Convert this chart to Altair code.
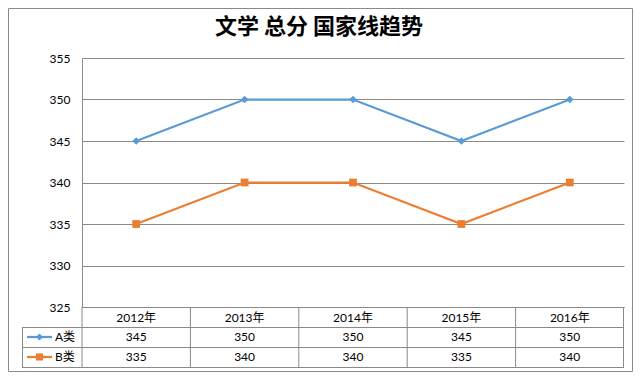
import altair as alt
import pandas as pd

years = ["2012年", "2013年", "2014年", "2015年", "2016年"]
series_names = ["A类", "B类"]
a_values = [345, 350, 350, 345, 350]
b_values = [335, 340, 340, 335, 340]
y_ticks = [325, 330, 335, 340, 345, 350, 355]
colors = ["#5B9BD5", "#ED7D31"]
shapes = ["diamond", "square"]
title_text = "文学 总分 国家线趋势"

rows = []
for s, vals in zip(series_names, [a_values, b_values]):
    for yr, v in zip(years, vals):
        rows.append({"year": yr, "series": s, "value": v})
df = pd.DataFrame(rows)

W, H = 542, 249
ROW = 20
PAD_L, PAD_T = 74, 50
SVG_W, SVG_H = 625, 364
FONT = "Lato, 'Noto Sans CJK SC', sans-serif"
GRID = "#898989"
LEFT = -60

xscale = alt.Scale(type="band", domain=years, paddingInner=0, paddingOuter=0)
yscale = alt.Scale(domain=[325, 355], nice=False, zero=False)
color = alt.Color("series:N", scale=alt.Scale(domain=series_names, range=colors), legend=None)
shape = alt.Shape("series:N", scale=alt.Scale(domain=series_names, range=shapes), legend=None)

base = alt.Chart(df)
one = alt.Chart(pd.DataFrame({"k": [0]}))

xenc = alt.X(
    "year:N", scale=xscale, sort=years, bandPosition=0.5,
    axis=alt.Axis(title=None, domain=True, domainColor=GRID, ticks=False, tickSize=0,
                  labelFont=FONT, labelFontSize=12, labelColor="#000", labelPadding=10,
                  labelBaseline="middle", labelAngle=0, grid=False),
)
yenc = alt.Y(
    "value:Q", scale=yscale,
    axis=alt.Axis(title=None, values=y_ticks, grid=True, gridColor=GRID, domain=True,
                  domainColor=GRID, ticks=False, tickSize=0, labelPadding=12,
                  labelFont=FONT, labelFontSize=12, labelColor="#000"),
)

frame = one.mark_rect(fillOpacity=0, stroke=GRID, strokeWidth=1).encode(
    x=alt.value(-PAD_L + 0.5), x2=alt.value(SVG_W - PAD_L - 0.5),
    y=alt.value(-PAD_T + 0.5), y2=alt.value(SVG_H - PAD_T - 0.5),
)

title = alt.Chart(pd.DataFrame({"t": [title_text]})).mark_text(
    font="Noto Sans CJK SC", fontSize=22, fontWeight="bold", color="#000",
    align="center", baseline="middle",
).encode(x=alt.value(237), y=alt.value(-31), text="t:N")

lines = base.mark_line(strokeWidth=2.25).encode(x=xenc, y=yenc, color=color)
points = base.mark_point(filled=True, size=60, opacity=1).encode(
    x=alt.X("year:N", scale=xscale, bandPosition=0.5), y=alt.Y("value:Q", scale=yscale),
    color=color, shape=shape,
)

layers = [frame, title, lines, points]

# table grid
layers.append(
    base.transform_filter(alt.datum.series == series_names[0]).mark_rule(color=GRID).encode(
        x=alt.X("year:N", scale=xscale, bandPosition=0), y=alt.value(H), y2=alt.value(H + 3 * ROW)
    )
)
layers.append(one.mark_rule(color=GRID).encode(x=alt.value(W - 0.5), y=alt.value(H), y2=alt.value(H + 3 * ROW)))
layers.append(one.mark_rule(color=GRID).encode(x=alt.value(LEFT + 0.5), y=alt.value(H + ROW), y2=alt.value(H + 3 * ROW)))
for k in (1, 2, 3):
    layers.append(one.mark_rule(color=GRID).encode(
        x=alt.value(LEFT), x2=alt.value(W), y=alt.value(H + k * ROW + 0.5)))

# table values and legend keys
for i, s in enumerate(series_names):
    yc = H + ROW * (i + 1) + ROW / 2
    sub = base.transform_filter(alt.datum.series == s)
    layers.append(sub.mark_text(font=FONT, fontSize=12, color="#000").encode(
        x=alt.X("year:N", scale=xscale, bandPosition=0.5), y=alt.value(yc), text="value:Q"))
    leg = alt.Chart(pd.DataFrame({"series": [s]}))
    layers.append(leg.mark_rule(strokeWidth=2.25, color=colors[i]).encode(
        x=alt.value(LEFT + 5), x2=alt.value(LEFT + 30), y=alt.value(yc)))
    layers.append(leg.mark_point(filled=True, size=50, opacity=1, shape=shapes[i], color=colors[i]).encode(
        x=alt.value(LEFT + 17.5), y=alt.value(yc)))
    layers.append(leg.mark_text(font=FONT, fontSize=12, color="#000", align="left").encode(
        x=alt.value(LEFT + 33), y=alt.value(yc), text="series:N"))

chart = alt.layer(*layers).properties(
    width=W, height=H,
    autosize=alt.AutoSizeParams(type="none"),
    padding={"left": PAD_L, "top": PAD_T, "right": SVG_W - PAD_L - W, "bottom": SVG_H - PAD_T - H},
).configure_view(stroke=None)

chart.save("out.html", embed_options={"renderer": "svg", "actions": False})
